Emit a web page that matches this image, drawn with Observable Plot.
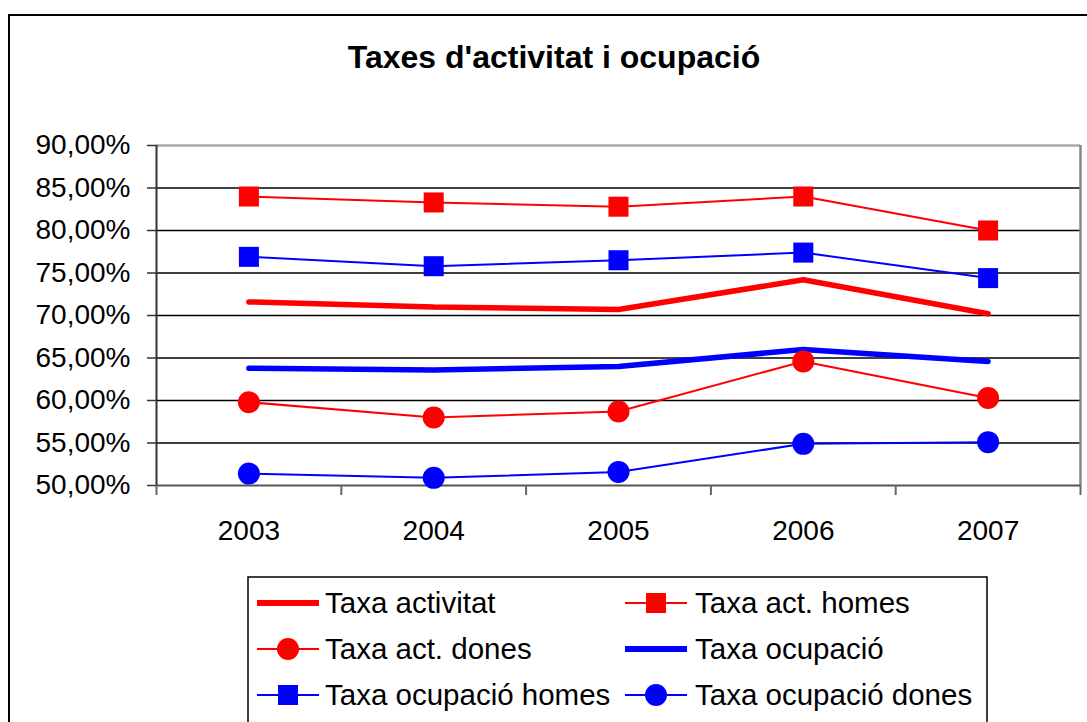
<!DOCTYPE html>
<html>
<head>
<meta charset="utf-8">
<script src="https://cdn.jsdelivr.net/npm/d3@7"></script>
<script src="https://cdn.jsdelivr.net/npm/@observablehq/plot@0.6"></script>
<style>
  html, body { margin: 0; padding: 0; background: #fff; overflow: hidden; }
  #wrap { position: relative; width: 1087px; height: 722px; overflow: hidden; font-family: "Liberation Sans", Arial, sans-serif; }
  #frame { position: absolute; left: 8px; top: 14px; width: 1200px; height: 900px; border: 2px solid #000; box-sizing: border-box; }
  #chart, #overlay { position: absolute; left: 0; top: 0; }
</style>
</head>
<body>
<div id="wrap">
  <div id="frame"></div>
  <div id="chart"></div>
  <svg id="overlay" width="1087" height="722"></svg>
</div>
<script>
const title = "Taxes d'activitat i ocupació";
const years = [2003, 2004, 2005, 2006, 2007];
const yTicks = [50, 55, 60, 65, 70, 75, 80, 85, 90];

const taxaActivitat   = [71.6, 71.0, 70.7, 74.2, 70.2];
const taxaActHomes    = [84.0, 83.3, 82.8, 84.0, 80.0];
const taxaActDones    = [59.8, 58.0, 58.7, 64.6, 60.3];
const taxaOcupacio    = [63.8, 63.6, 64.0, 66.0, 64.6];
const taxaOcupHomes   = [76.9, 75.8, 76.5, 77.4, 74.4];
const taxaOcupDones   = [51.4, 50.9, 51.6, 54.9, 55.1];

const seriesNames = ["Taxa activitat", "Taxa act. homes", "Taxa act. dones", "Taxa ocupació", "Taxa ocupació homes", "Taxa ocupació dones"];
const seriesValues = [taxaActivitat, taxaActHomes, taxaActDones, taxaOcupacio, taxaOcupHomes, taxaOcupDones];
const seriesColor  = ["#ff0000", "#ff0000", "#ff0000", "#0000ff", "#0000ff", "#0000ff"];
const seriesWidth  = [5.5, 2, 2, 5.5, 2, 2];
const seriesSymbol = [null, "square", "circle", null, "square", "circle"];

const data = seriesNames.flatMap((name, i) =>
  years.map((yr, j) => ({series: name, year: yr, value: seriesValues[i][j], i}))
);

const bounds = [years[0] - 0.5, ...years.map(y => y + 0.5)];
const fmt = d => d.toFixed(2).replace(".", ",") + "%";

const lineMarks = seriesNames.map((name, i) =>
  Plot.line(data.filter(d => d.i === i), {x: "year", y: "value", stroke: seriesColor[i], strokeWidth: seriesWidth[i], strokeLinejoin: "miter"})
);
const dotMarks = seriesNames.map((name, i) => seriesSymbol[i] ?
  Plot.dot(data.filter(d => d.i === i), {x: "year", y: "value", fill: seriesColor[i], stroke: "none", symbol: seriesSymbol[i], r: seriesSymbol[i] === "square" ? 11.3 : 11}) : null
).filter(Boolean);

const chart = Plot.plot({
  width: 1087,
  height: 722,
  marginLeft: 156,
  marginRight: 7,
  marginTop: 145,
  marginBottom: 237,
  style: {background: "transparent", fontFamily: "'Liberation Sans', Arial, sans-serif", fontSize: "28px", color: "#000"},
  x: {type: "linear", domain: [bounds[0], bounds[bounds.length - 1]]},
  y: {domain: [50, 90]},
  marks: [
    Plot.gridY(yTicks.slice(1, -1), {stroke: "#000", strokeOpacity: 1, strokeWidth: 1.4}),
    Plot.ruleY([90], {stroke: "#a8a8a8", strokeWidth: 2.5}),
    Plot.ruleX([bounds[bounds.length - 1]], {stroke: "#888", strokeWidth: 2.5}),
    Plot.ruleY([50], {stroke: "#555", strokeWidth: 2}),
    Plot.ruleX([bounds[0]], {stroke: "#333", strokeWidth: 2}),
    Plot.axisY({ticks: yTicks, tickSize: 9, tickPadding: 17, tickFormat: fmt, stroke: "#333", strokeWidth: 1.5, fill: "#000", label: null}),
    Plot.axisX({ticks: years, tickSize: 0, tickPadding: 35, tickFormat: d => String(d), fill: "#000", label: null}),
    Plot.axisX({ticks: bounds, tickSize: 10, tickPadding: 0, tickFormat: () => "", stroke: "#666", strokeWidth: 2, label: null}),
    ...lineMarks,
    ...dotMarks
  ]
});
document.getElementById("chart").appendChild(chart);

// Title and legend
const ov = d3.select("#overlay");
ov.append("text").attr("x", 554).attr("y", 68).attr("text-anchor", "middle")
  .attr("font-family", "'Liberation Sans', Arial, sans-serif").attr("font-weight", "bold").attr("font-size", 32)
  .attr("fill", "#000").text(title);

ov.append("rect").attr("x", 248).attr("y", 577).attr("width", 739).attr("height", 200)
  .attr("fill", "#fff").attr("stroke", "#000").attr("stroke-width", 1.5);

const legendRows = [603, 649, 695];
const legendCols = [{x1: 257, x2: 319, tx: 325}, {x1: 625, x2: 687, tx: 695}];
seriesNames.forEach((name, i) => {
  const col = legendCols[i % 2], ry = legendRows[Math.floor(i / 2)];
  const g = ov.append("g");
  g.append("line").attr("x1", col.x1).attr("x2", col.x2).attr("y1", ry).attr("y2", ry)
    .attr("stroke", seriesColor[i]).attr("stroke-width", seriesWidth[i] === 2 ? 2 : 6);
  const cx = (col.x1 + col.x2) / 2;
  if (seriesSymbol[i] === "square") {
    g.append("rect").attr("x", cx - 10).attr("y", ry - 10).attr("width", 20).attr("height", 20).attr("fill", seriesColor[i]);
  } else if (seriesSymbol[i] === "circle") {
    g.append("circle").attr("cx", cx).attr("cy", ry).attr("r", 11).attr("fill", seriesColor[i]);
  }
  g.append("text").attr("x", col.tx).attr("y", ry).attr("dy", "0.35em")
    .attr("font-family", "'Liberation Sans', Arial, sans-serif").attr("font-size", 29.5).attr("fill", "#000").text(name);
});
</script>
</body>
</html>
